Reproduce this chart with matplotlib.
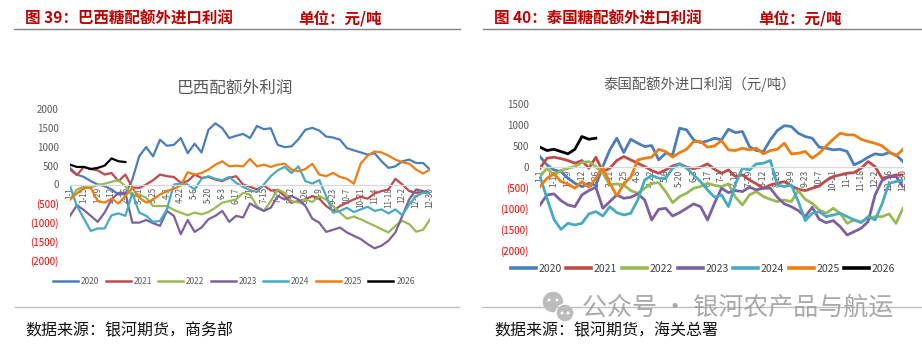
import numpy as np
import matplotlib
matplotlib.use('Agg')
import matplotlib.pyplot as plt
from matplotlib.patches import Ellipse

plt.rcParams['font.family'] = ['Noto Sans CJK SC', 'DejaVu Sans']

W, H = 922, 346

# weekly samples, day 0 = 1-1, day 364 = 12-30
days = np.arange(0, 365, 7)
days_2026 = days[:9]

tick_days = np.arange(0, 365, 14)
tick_labels = ['1-1', '1-15', '1-29', '2-12', '2-26', '3-11', '3-25', '4-8', '4-22',
               '5-6', '5-20', '6-3', '6-17', '7-1', '7-15', '7-29', '8-12', '8-26',
               '9-9', '9-23', '10-7', '10-21', '11-4', '11-18', '12-2', '12-16', '12-30']

years = ['2020', '2021', '2022', '2023', '2024', '2025', '2026']
colors = ['#4A7EBB', '#BE4B48', '#98B954', '#7D60A0', '#46AAC5', '#F07D12', '#000000']

# Brazil out-of-quota import margin (CNY/t)
bra_2020 = [440, 263, 200, 90, 0, -45, -130, -265, -250, 130, 750, 990, 745, 1185, 1025, 1050,
            1230, 830, 1080, 850, 1450, 1620, 1490, 1230, 1290, 1340, 1230, 1550, 1465, 1490,
            1050, 990, 1010, 1200, 1450, 1500, 1430, 1270, 1245, 1185, 965, 905, 850, 790, 830,
            615, 440, 480, 615, 660, 570, 570, 395]
bra_2021 = [395, 250, 465, 410, 375, 263, 305, 90, 263, -80, -90, 0, 115, 263, 220, 200, 45,
            90, 263, 175, 200, 130, 90, 175, 220, 0, -60, -130, -25, -160, -150, -305, -480,
            -440, -395, -305, -375, -570, -700, -570, -480, -395, -325, -375, -235, -175, -130,
            150, 0, -175, -220, -200, -235]
bra_2022 = [-395, -130, -60, -80, -10, 20, 70, 115, -45, -290, -265, -350, -570, -570, -570,
            -675, -745, -815, -745, -790, -730, -615, -480, -440, -395, -220, -265, -570, -700,
            -440, -130, -220, -440, -480, -395, -465, -305, -395, -570, -745, -905, -850, -920,
            -1010, -1095, -1185, -1270, -1095, -960, -1050, -1250, -1200, -920]
bra_2023 = [-830, -550, -675, -830, -990, -745, -395, -220, -220, -1010, -1010, -940, -1025,
            -1095, -700, -830, -1315, -940, -1255, -1140, -920, -830, -700, -990, -830, -875,
            -500, -615, -700, -615, -305, -395, -305, -395, -570, -905, -1010, -1255, -1200,
            -1140, -1270, -1360, -1445, -1580, -1690, -1620, -1490, -1270, -830, -395, -130,
            -175, -220]
bra_2024 = [-45, -570, -905, -1230, -1165, -1165, -815, -765, -830, -220, -745, -830, -990,
            -965, -660, 0, 25, 0, -130, 150, 220, 150, 115, 200, 45, -60, -150, -200, 0, 220,
            375, 465, 305, 480, 90, 25, 115, -305, -745, -700, -615, -730, -660, -590, -700,
            -660, -765, -660, -815, -525, -305, -220, -220]
bra_2025 = [-395, -235, -90, -90, -440, -480, -375, -500, -305, -90, -350, -480, -395, -265,
            -175, -115, -25, 325, 263, 305, 395, 525, 615, 480, 500, 480, 675, 480, 525, 465,
            525, 550, 395, 350, 410, 550, 263, 220, 305, 200, 150, 20, 560, 765, 875, 850, 765,
            660, 590, 550, 395, 290, 395]
bra_2026 = [525, 465, 465, 410, 440, 500, 690, 615, 595]

# Thailand out-of-quota import margin (CNY/t)
tha_2020 = [240, 40, -80, -120, -280, -400, -480, -400, -450, 0, 400, 680, 335, 655, 560, 480,
            505, 160, 320, 280, 920, 880, 640, 575, 615, 680, 640, 895, 815, 840, 480, 385, 360,
            640, 865, 980, 960, 800, 720, 680, 465, 440, 400, 415, 360, 40, 120, 225, 305, 280,
            335, 280, 120]
tha_2021 = [-40, 200, 225, 190, 145, 80, 145, -40, 225, -120, -40, 145, 240, 160, 80, 0, -95,
            -160, -80, 15, 65, -15, -50, -15, 65, -65, -160, -80, -240, -200, -320, -415, -520,
            -440, -400, -360, -465, -545, -575, -520, -465, -335, -240, -200, -160, -145, -40,
            120, 0, -280, -240, -200, -200]
tha_2022 = [-240, -40, -200, -95, -40, 0, 95, 120, 0, -160, -440, -415, -440, -575, -640, -520,
            -400, -385, -600, -865, -720, -640, -520, -480, -400, -450, -480, -415, -735, -920,
            -680, -600, -720, -785, -840, -800, -840, -575, -785, -880, -1040, -1120, -1000,
            -1120, -1360, -1280, -1330, -1240, -1200, -1200, -1135, -1360, -1000]
tha_2023 = [-920, -680, -655, -815, -920, -960, -680, -575, -495, -1000, -840, -680, -760,
            -735, -655, -800, -1280, -1025, -1000, -1185, -1105, -1000, -895, -960, -1280, -880,
            -520, -625, -575, -600, -495, -560, -520, -520, -735, -895, -960, -1055, -1200,
            -975, -1265, -1345, -1295, -1440, -1640, -1560, -1480, -1320, -680, -335, -240,
            -240, -480]
tha_2024 = [-240, -760, -1265, -1505, -1360, -1400, -1360, -1135, -1080, -1185, -960, -1105,
            -1160, -1120, -800, -320, -210, -280, -280, -40, 65, -40, -200, -360, -560, -735,
            -680, -960, -415, -40, -80, 65, 80, 145, -440, -480, -440, -840, -1295, -1120,
            -1080, -1200, -1160, -1120, -1200, -1280, -1345, -1200, -1280, -895, -400, -360,
            -320]
tha_2025 = [-480, -280, -175, -360, -415, -520, -360, -495, -280, -15, -400, -705, -415, -255,
            160, 200, 225, 415, 360, 225, 335, 415, 600, 600, 465, 495, 625, 400, 385, 440, 400,
            440, 305, 385, 415, 560, 305, 320, 360, 200, 320, 495, 655, 800, 760, 760, 655, 600,
            560, 495, 360, 255, 415]
tha_2026 = [465, 385, 415, 360, 305, 415, 720, 655, 680]

bra_series = [bra_2020, bra_2021, bra_2022, bra_2023, bra_2024, bra_2025, bra_2026]
tha_series = [tha_2020, tha_2021, tha_2022, tha_2023, tha_2024, tha_2025, tha_2026]


def px(x, y):
    return x / W, 1 - y / H


def fmt_value(v):
    v = int(v)
    return str(v) if v >= 0 else f'({-v})'


def draw_panel(ax, series, yticks, lw, xfs, yfs):
    for vals, c in zip(series, colors):
        x = days_2026 if len(vals) == len(days_2026) else days
        ax.plot(x, vals, color=c, lw=lw, solid_joinstyle='round')
    ax.set_xlim(0, 364)
    ax.set_ylim(yticks[0], yticks[-1])
    ax.set_axisbelow(True)
    for s in ['top', 'right', 'left']:
        ax.spines[s].set_visible(False)
    ax.spines['bottom'].set_position(('data', 0))
    ax.spines['bottom'].set_color('#D9D9D9')
    ax.spines['bottom'].set_linewidth(0.9)
    ax.set_xticks(tick_days)
    ax.set_xticklabels(tick_labels, rotation=90, fontsize=xfs, color='#595959')
    ax.set_yticks(yticks)
    ax.set_yticklabels([fmt_value(v) for v in yticks], fontsize=yfs)
    for lab, v in zip(ax.get_yticklabels(), yticks):
        lab.set_color('#595959' if v >= 0 else '#FF0000')
    ax.tick_params(axis='both', length=0)
    ax.tick_params(axis='x', pad=2)
    ax.tick_params(axis='y', pad=8)
    ax.set_facecolor('none')


fig = plt.figure(figsize=(W / 100, H / 100), dpi=100)
fig.patch.set_facecolor('white')

# left: Brazil
x0, x1, y0, y1 = 70, 430, 109, 260
ax1 = fig.add_axes([x0 / W, 1 - y1 / H, (x1 - x0) / W, (y1 - y0) / H])
draw_panel(ax1, bra_series, list(range(-2000, 2001, 500)), 1.6, 5.8, 7)

# right: Thailand
x0, x1, y0, y1 = 540, 903, 104, 250
ax2 = fig.add_axes([x0 / W, 1 - y1 / H, (x1 - x0) / W, (y1 - y0) / H])
draw_panel(ax2, tha_series, list(range(-2000, 1501, 500)), 2.0, 6.2, 7)

# chart titles
fig.text(*px(235, 88), '巴西配额外利润', fontsize=12, color='#595959',
         ha='center', va='center')
fig.text(*px(700, 84), '泰国配额外进口利润（元/吨）', fontsize=10.4, color='#595959',
         ha='center', va='center')

# legends
leg1 = fig.legend(ax1.lines, years, loc='center', bbox_to_anchor=px(234, 281), ncol=7,
                  frameon=False, fontsize=6, handlelength=3.0, handletextpad=0.35,
                  columnspacing=0.75, labelcolor='#595959')
for l in leg1.get_lines():
    l.set_linewidth(1.8)
leg2 = fig.legend(ax2.lines, years, loc='center', bbox_to_anchor=px(703, 269), ncol=7,
                  frameon=False, fontsize=7.5, handlelength=2.4, handletextpad=0.25,
                  columnspacing=0.45, labelcolor='#404040')
for l in leg2.get_lines():
    l.set_linewidth(2.6)

# section headers
head = dict(fontsize=11.2, fontweight='bold', color='#C00000', va='center')
fig.text(*px(25, 19), '图 39：巴西糖配额外进口利润', **head)
fig.text(*px(298, 19), '单位：元/吨', **head)
fig.text(*px(494, 19), '图 40：泰国糖配额外进口利润', **head)
fig.text(*px(758, 19), '单位：元/吨', **head)

# separator rules
for xa, xb, yy, c in [(14, 460, 29, '#808080'), (483, 922, 29, '#808080'),
                      (15, 459, 307, '#BFBFBF'), (482, 922, 307, '#BFBFBF')]:
    fig.add_artist(plt.Line2D([xa / W, xb / W], [1 - yy / H, 1 - yy / H],
                              color=c, lw=1.0, transform=fig.transFigure))

# sources
fig.text(*px(25, 331), '数据来源：银河期货，商务部', fontsize=11.5, color='#111111', va='center')
fig.text(*px(494, 331), '数据来源：银河期货，海关总署', fontsize=11.5, color='#111111', va='center')

# account mark
for cx, cy, r in [(553, 302, 11), (565, 313, 9)]:
    fig.add_artist(Ellipse(px(cx, cy), 2 * r / W, 2 * r / H, transform=fig.transFigure,
                           facecolor='#B5B5B5', edgecolor='white', lw=1.2, alpha=0.9))
for cx, cy in [(549, 300), (557, 300), (562, 313), (568, 313)]:
    fig.add_artist(Ellipse(px(cx, cy), 3 / W, 3 / H, transform=fig.transFigure,
                           facecolor='white', edgecolor='none'))
fig.text(*px(582, 308), '公众号 · 银河农产品与航运', fontsize=18, color='#9A9A9A',
         alpha=0.85, va='center')

fig.savefig('out.png', dpi=100, facecolor='white')
